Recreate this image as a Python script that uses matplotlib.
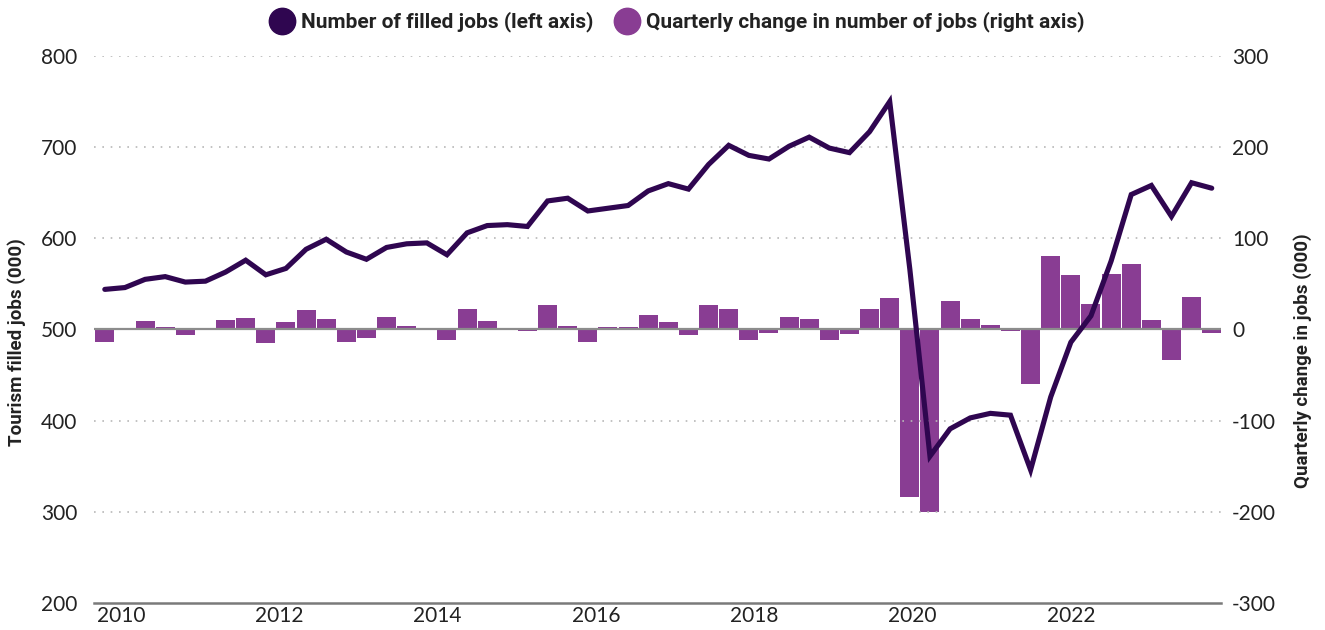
import numpy as np
import matplotlib.pyplot as plt
from matplotlib.lines import Line2D

plt.rcParams['font.family'] = ['Lato', 'DejaVu Sans']
plt.rcParams['axes.unicode_minus'] = False

# quarterly series, 2010 Q1 .. 2023 Q4
years = np.repeat(np.arange(2010, 2024), 4)
quarters = np.tile(np.arange(4), 14)
t = years + quarters / 4

filled_jobs = [544, 546, 555, 558, 552, 553, 563, 576, 560, 567, 588, 599,
               585, 577, 590, 594, 595, 582, 606, 614, 615, 613, 641, 644,
               630, 633, 636, 652, 660, 654, 681, 702, 691, 687, 701, 711,
               699, 694, 717, 750, 566, 361, 391, 403, 408, 406, 346, 426,
               486, 515, 575, 648, 658, 624, 661, 655]
qtr_change = [-14, 2, 9, 3, -6, 1, 10, 13, -15, 8, 21, 11, -14, -9, 14, 4,
              1, -12, 23, 9, 2, -2, 27, 4, -14, 3, 3, 16, 8, -6, 27, 22,
              -11, -4, 14, 11, -11, -5, 23, 34, -184, -200, 31, 12, 5, -2,
              -60, 81, 60, 28, 61, 72, 10, -33, 36, -4]

tick_years = [2010, 2012, 2014, 2016, 2018, 2020, 2022]

LINE_C = '#2f0650'
BAR_C = '#893d93'
GRID_C = '#b8b8b8'
TEXT_C = '#222222'
LABEL_FONT = {'family': ['Roboto', 'DejaVu Sans'], 'weight': 'bold',
              'size': 13.5}

fig = plt.figure(figsize=(13.25, 6.3), dpi=100)
ax = fig.add_axes([0.0709, 0.0429, 0.8506, 0.8682])
ax2 = ax.twinx()

# bars on the right axis, drawn underneath the line
ax2.bar(t, qtr_change, width=0.236, color=BAR_C, zorder=2)
ax2.axhline(0, color='#8c8c8c', lw=1.6, zorder=3)
ax2.set_ylim(-300, 300)
ax2.set_yticks(np.arange(-300, 301, 100))

ax.set_zorder(ax2.get_zorder() + 1)
ax.patch.set_visible(False)
ax.plot(t, filled_jobs, color=LINE_C, lw=3.7, solid_joinstyle='miter',
        solid_capstyle='round', zorder=5)
ax.set_ylim(200, 800)
ax.set_yticks(np.arange(200, 801, 100))
ax.set_xlim(2009.865, 2023.865)
ax.set_xticks(np.linspace(2010.2, 2022.0, len(tick_years)))
ax.set_xticklabels([str(y) for y in tick_years])

for y in range(300, 801, 100):
    if y != 500:
        ax.axhline(y, color=GRID_C, lw=1.2, ls=(0, (1, 4)), zorder=0)

for a in (ax, ax2):
    for s in a.spines.values():
        s.set_visible(False)
    a.tick_params(length=0, labelsize=15, colors=TEXT_C)
ax.spines['bottom'].set_visible(True)
ax.spines['bottom'].set_color('#7a7a7a')
ax.spines['bottom'].set_linewidth(1.8)
ax.tick_params(axis='y', pad=12)
ax.tick_params(axis='x', pad=2)
ax2.tick_params(axis='y', pad=8)

fig.text(17 / 1325, 1 - 342 / 630, 'Tourism filled jobs (000)',
         rotation=90, ha='center', va='center', color=TEXT_C, **LABEL_FONT)
fig.text(1303 / 1325, 1 - 361 / 630, 'Quarterly change in jobs (000)',
         rotation=90, ha='center', va='center', color=TEXT_C, **LABEL_FONT)

handles = [
    Line2D([], [], ls='none', marker='o', ms=19, color=LINE_C),
    Line2D([], [], ls='none', marker='o', ms=19, color=BAR_C),
]
labels = ['Number of filled jobs (left axis)',
          'Quarterly change in number of jobs (right axis)']
fig.legend(handles, labels, loc='center', bbox_to_anchor=(0.511, 0.965),
           ncol=2, frameon=False, handletextpad=0.3, columnspacing=1.0,
           handlelength=1.2, prop={'family': ['Roboto', 'DejaVu Sans'],
                                   'size': 15, 'weight': 'bold'},
           labelcolor=TEXT_C)

fig.savefig('out.png', dpi=100)
